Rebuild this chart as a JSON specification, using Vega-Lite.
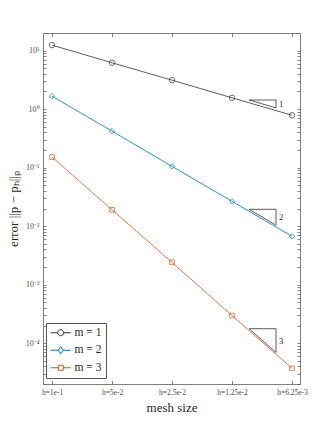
{
  "$schema": "https://vega.github.io/schema/vega-lite/v6.json",
  "width": 257,
  "height": 351,
  "autosize": {"type": "none"},
  "padding": {"left": 43, "top": 33, "right": 32, "bottom": 48},
  "background": "white",
  "config": {
    "view": {"stroke": "#808080", "strokeWidth": 1},
    "axis": {
      "labelFont": "Liberation Serif",
      "titleFont": "Liberation Serif",
      "labelColor": "#4d4d4d",
      "titleColor": "#262626",
      "labelFontSize": 7.5,
      "titleFontSize": 13,
      "titleFontWeight": "normal",
      "domain": false,
      "grid": false,
      "tickColor": "#666666",
      "tickWidth": 0.8
    },
    "legend": {
      "labelFont": "Liberation Serif",
      "labelFontSize": 11.5,
      "labelColor": "#262626"
    },
    "text": {"font": "Liberation Serif"}
  },
  "datasets": {
    "series": [
      {"h": 0.1, "err": 12.4, "m": "m = 1"},
      {"h": 0.05, "err": 6.2, "m": "m = 1"},
      {"h": 0.025, "err": 3.12, "m": "m = 1"},
      {"h": 0.0125, "err": 1.56, "m": "m = 1"},
      {"h": 0.00625, "err": 0.785, "m": "m = 1"},
      {"h": 0.1, "err": 1.66, "m": "m = 2"},
      {"h": 0.05, "err": 0.42, "m": "m = 2"},
      {"h": 0.025, "err": 0.105, "m": "m = 2"},
      {"h": 0.0125, "err": 0.0265, "m": "m = 2"},
      {"h": 0.00625, "err": 0.0067, "m": "m = 2"},
      {"h": 0.1, "err": 0.151, "m": "m = 3"},
      {"h": 0.05, "err": 0.019, "m": "m = 3"},
      {"h": 0.025, "err": 0.0024, "m": "m = 3"},
      {"h": 0.0125, "err": 0.000296, "m": "m = 3"},
      {"h": 0.00625, "err": 0.000037, "m": "m = 3"}
    ],
    "triangles": [
      {"tri": "t1", "o": 1, "h": 0.01027, "err": 1.431},
      {"tri": "t1", "o": 2, "h": 0.00752, "err": 1.431},
      {"tri": "t1", "o": 3, "h": 0.00752, "err": 1.048},
      {"tri": "t1", "o": 4, "h": 0.01027, "err": 1.431},
      {"tri": "t2", "o": 1, "h": 0.01027, "err": 0.01937},
      {"tri": "t2", "o": 2, "h": 0.00752, "err": 0.01937},
      {"tri": "t2", "o": 3, "h": 0.00752, "err": 0.01038},
      {"tri": "t2", "o": 4, "h": 0.01027, "err": 0.01937},
      {"tri": "t3", "o": 1, "h": 0.01027, "err": 0.0001763},
      {"tri": "t3", "o": 2, "h": 0.00752, "err": 0.0001763},
      {"tri": "t3", "o": 3, "h": 0.00752, "err": 0.00006916},
      {"tri": "t3", "o": 4, "h": 0.01027, "err": 0.0001763}
    ],
    "slopes": [
      {"h": 0.00752, "err": 1.2246, "label": "1"},
      {"h": 0.00752, "err": 0.01418, "label": "2"},
      {"h": 0.00752, "err": 0.0001104, "label": "3"}
    ]
  },
  "resolve": {"axis": {"x": "independent", "y": "independent"}},
  "layer": [
    {
      "data": {"name": "series"},
      "mark": {"type": "line", "strokeWidth": 0.8},
      "encoding": {
        "x": {
          "field": "h", "type": "quantitative",
          "scale": {"type": "log", "domain": [0.0057, 0.111], "reverse": true, "nice": false},
          "axis": {
            "orient": "bottom",
            "title": "mesh size",
            "values": [0.1, 0.05, 0.025, 0.0125, 0.00625],
            "labelExpr": "datum.value > 0.09 ? 'h=1e-1' : datum.value > 0.04 ? 'h=5e-2' : datum.value > 0.02 ? 'h=2.5e-2' : datum.value > 0.01 ? 'h=1.25e-2' : 'h=6.25e-3'",
            "tickSize": -3.5,
            "labelPadding": 8,
            "titlePadding": 5,
            "labelOverlap": false,
            "labelFlush": false
          }
        },
        "y": {
          "field": "err", "type": "quantitative",
          "scale": {"type": "log", "domain": [0.00002, 20], "nice": false},
          "axis": {
            "orient": "left",
            "title": "error ||p − pₕ||ₚ",
            "values": [0.00002, 0.00003, 0.00004, 0.00005, 0.00006, 0.00007, 0.00008, 0.00009, 0.0001, 0.0002, 0.0003, 0.0004, 0.0005, 0.0006, 0.0007, 0.0008, 0.0009, 0.001, 0.002, 0.003, 0.004, 0.005, 0.006, 0.007, 0.008, 0.009, 0.01, 0.02, 0.03, 0.04, 0.05, 0.06, 0.07, 0.08, 0.09, 0.1, 0.2, 0.3, 0.4, 0.5, 0.6, 0.7, 0.8, 0.9, 1, 2, 3, 4, 5, 6, 7, 8, 9, 10, 20],
            "labelExpr": "abs(log(datum.value)/LN10 - round(log(datum.value)/LN10)) > 0.001 ? '' : datum.value > 5 ? '10¹' : datum.value > 0.5 ? '10⁰' : datum.value > 0.05 ? '10⁻¹' : datum.value > 0.005 ? '10⁻²' : datum.value > 0.0005 ? '10⁻³' : '10⁻⁴'",
            "tickSize": -3,
            "labelPadding": 7,
            "titlePadding": 5,
            "labelOverlap": false,
            "labelFontSize": 8
          }
        },
        "color": {
          "field": "m", "type": "nominal",
          "scale": {"domain": ["m = 1", "m = 2", "m = 3"], "range": ["#333333", "#0072BD", "#D95319"]},
          "legend": {
            "title": null,
            "orient": "none",
            "legendX": 3,
            "legendY": 290,
            "strokeColor": "#555555",
            "fillColor": "white",
            "padding": 4,
            "symbolSize": 100,
            "symbolStrokeWidth": 1,
            "symbolFillColor": "transparent",
            "labelOffset": 13,
            "rowPadding": 4.5,
            "cornerRadius": 0,
            "encode": {
              "symbols": {
                "update": {
                  "shape": {"signal": "datum.value === 'm = 1' ? 'M-1,0H0.4M1.6,0H3M1.6,0A0.6,0.6 0 1,1 0.4,0A0.6,0.6 0 1,1 1.6,0' : datum.value === 'm = 2' ? 'M-1,0H0.5M1.5,0H3M1,-0.7L1.5,0L1,0.7L0.5,0Z' : 'M-1,0H0.5M1.5,0H3M0.5,-0.5H1.5V0.5H0.5Z'"},
                  "fill": {"value": "transparent"}
                }
              }
            }
          }
        }
      }
    },
    {
      "data": {"name": "series"},
      "transform": [{"filter": "datum.m === 'm = 1'"}],
      "mark": {"type": "point", "shape": "circle", "filled": false, "strokeWidth": 1, "size": 30},
      "encoding": {
        "x": {
          "field": "h", "type": "quantitative",
          "axis": {
            "orient": "top", "title": null, "labels": false,
            "values": [0.1, 0.05, 0.025, 0.0125, 0.00625],
            "tickSize": -3.5
          }
        },
        "y": {
          "field": "err", "type": "quantitative",
          "axis": {
            "orient": "right", "title": null, "labels": false,
            "values": [0.00002, 0.00003, 0.00004, 0.00005, 0.00006, 0.00007, 0.00008, 0.00009, 0.0001, 0.0002, 0.0003, 0.0004, 0.0005, 0.0006, 0.0007, 0.0008, 0.0009, 0.001, 0.002, 0.003, 0.004, 0.005, 0.006, 0.007, 0.008, 0.009, 0.01, 0.02, 0.03, 0.04, 0.05, 0.06, 0.07, 0.08, 0.09, 0.1, 0.2, 0.3, 0.4, 0.5, 0.6, 0.7, 0.8, 0.9, 1, 2, 3, 4, 5, 6, 7, 8, 9, 10, 20],
            "tickSize": -3
          }
        },
        "color": {"field": "m", "type": "nominal"}
      }
    },
    {
      "data": {"name": "series"},
      "transform": [{"filter": "datum.m === 'm = 2'"}],
      "mark": {"type": "point", "shape": "diamond", "filled": false, "strokeWidth": 1, "size": 30},
      "encoding": {
        "x": {"field": "h", "type": "quantitative", "axis": null},
        "y": {"field": "err", "type": "quantitative", "axis": null},
        "color": {"field": "m", "type": "nominal"}
      }
    },
    {
      "data": {"name": "series"},
      "transform": [{"filter": "datum.m === 'm = 3'"}],
      "mark": {"type": "point", "shape": "square", "filled": false, "strokeWidth": 1, "size": 22},
      "encoding": {
        "x": {"field": "h", "type": "quantitative", "axis": null},
        "y": {"field": "err", "type": "quantitative", "axis": null},
        "color": {"field": "m", "type": "nominal"}
      }
    },
    {
      "data": {"name": "triangles"},
      "mark": {"type": "line", "strokeWidth": 0.8, "color": "#333333"},
      "encoding": {
        "x": {"field": "h", "type": "quantitative", "axis": null},
        "y": {"field": "err", "type": "quantitative", "axis": null},
        "detail": {"field": "tri", "type": "nominal"},
        "order": {"field": "o", "type": "quantitative"}
      }
    },
    {
      "data": {"name": "slopes"},
      "mark": {"type": "text", "align": "left", "baseline": "middle", "dx": 3, "fontSize": 8.5, "color": "#262626"},
      "encoding": {
        "x": {"field": "h", "type": "quantitative", "axis": null},
        "y": {"field": "err", "type": "quantitative", "axis": null},
        "text": {"field": "label", "type": "nominal"}
      }
    }
  ]
}
